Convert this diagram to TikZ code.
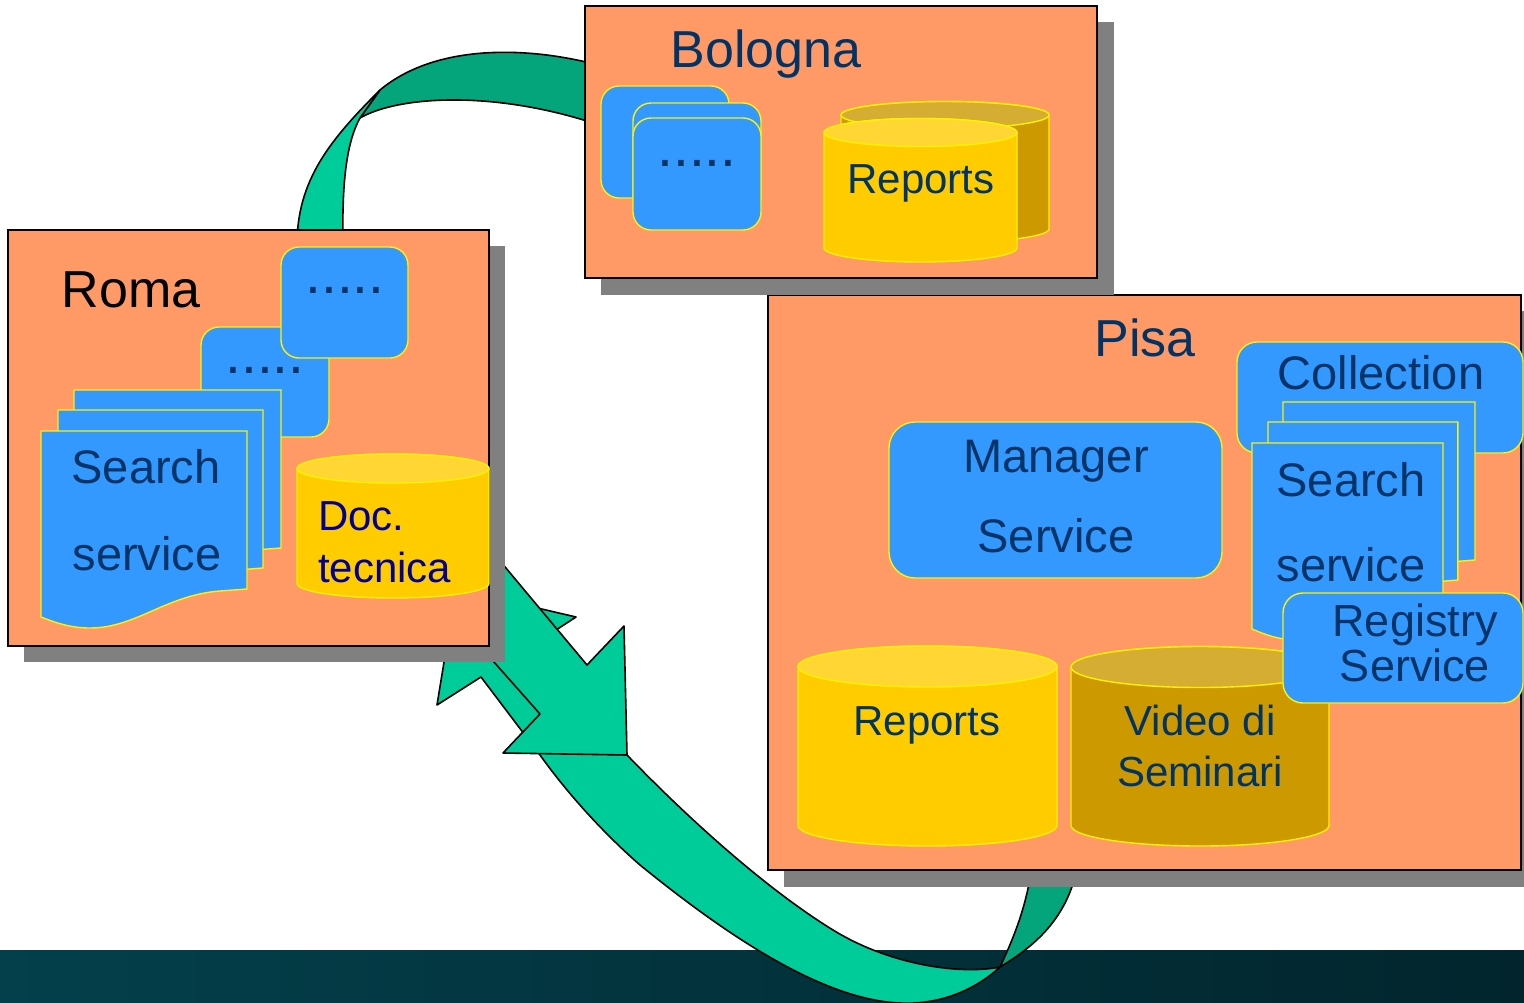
\documentclass[tikz,border=0pt]{standalone}
\usepackage{fontspec}
\setmainfont{Liberation Sans}
\definecolor{salmon}{HTML}{FF9966}
\definecolor{boxblue}{HTML}{3399FF}
\definecolor{txtblue}{HTML}{003366}
\definecolor{docblue}{HTML}{000099}
\definecolor{cylbody}{HTML}{FFCC00}
\definecolor{cyltop}{HTML}{FFD633}
\definecolor{dcylbody}{HTML}{CC9900}
\definecolor{dcyltop}{HTML}{D6AD33}
\definecolor{shadowgray}{HTML}{808080}
\definecolor{lgreen}{HTML}{00CC99}
\definecolor{dgreen}{HTML}{04A57B}
\definecolor{bandL}{HTML}{03404B}
\definecolor{bandM}{HTML}{044650}
\definecolor{bandR}{HTML}{02252D}
\newcommand{\cylshape}[7]{%
  \pgfmathsetmacro\cylcx{(#1+#2)/2}\pgfmathsetmacro\cylrx{(#2-#1)/2}%
  \filldraw[fill=#6,cylline] (#1,#3) -- (#1,#4) arc[start angle=180,end angle=360,x radius=\cylrx pt,y radius=#5pt] -- (#2,#3) arc[start angle=0,end angle=180,x radius=\cylrx pt,y radius=#5pt] -- cycle;
  \filldraw[fill=#7,cylline] (\cylcx,#3) ellipse[x radius=\cylrx pt,y radius=#5pt];
}
\newcommand{\docshape}[3]{%
  \begin{scope}[shift={(#1,#2)},xscale=#3]
    \filldraw[bluebox] (0,0) -- (206,0) -- (206,158) -- (179,160) .. controls (125,164) and (95,197) .. (49,197) .. controls (30,197) and (15,192) .. (0,186) -- cycle;
  \end{scope}}
\begin{document}
\begin{tikzpicture}[x=1pt,y=-1pt,
  sitebox/.style={fill=salmon,draw=black,line width=1.5pt},
  shadowbox/.style={fill=shadowgray},
  bluebox/.style={fill=boxblue,draw=yellow,line width=1.4pt},
  cylline/.style={draw=yellow,line width=1.4pt},
  ribbonlight/.style={fill=lgreen,draw=black,line width=1.6pt,line join=round},
  ribbondark/.style={fill=dgreen,draw=black,line width=1.6pt,line join=round},
  title/.style={inner sep=0pt,anchor=base,text=txtblue,font=\fontsize{52}{52}\selectfont},
  lbl/.style={inner sep=0pt,anchor=base,text=txtblue,font=\fontsize{47}{47}\selectfont},
  slbl/.style={inner sep=0pt,anchor=base,text=txtblue,font=\fontsize{42}{42}\selectfont},
  dots/.style={inner sep=0pt,anchor=base,text=txtblue,font=\fontsize{57}{57}\selectfont}
]
\useasboundingbox (0,0) rectangle (1524,1002);
\clip (0,0) rectangle (1524,1002);

% bottom band
\shade[left color=bandL,middle color=bandM,right color=bandR] (0,950) rectangle (1524,1002);

% ---- upper arrow (Bologna -> Roma)
\coordinate (tfold1) at (380,90);
\coordinate (tfold2) at (360,118);
\filldraw[ribbondark] (605,67) .. controls (540,48) and (440,40) .. (tfold1)
  -- (tfold2) .. controls (400,95) and (500,90) .. (605,127) -- cycle;
\filldraw[ribbonlight] (tfold1) .. controls (330,140) and (297,180) .. (297,245)
  -- (343,245) .. controls (342,190) and (345,145) .. (tfold2) -- cycle;

% ---- lower arrow (Pisa <-> Roma)
\coordinate (twist) at (1000,967);
\filldraw[ribbondark] (twist) .. controls (1015,935) and (1027,905) .. (1033,860)
  -- (1079,860) .. controls (1070,910) and (1045,940) .. (twist) -- cycle;
\filldraw[ribbonlight] (481,677) -- (437,705) -- (456,589) -- (576,617) -- (556,630) -- (627,755)
  .. controls (680,810) and (760,885) .. (833,930)
  .. controls (890,965) and (960,975) .. (twist)
  .. controls (975,990) and (940,1005) .. (900,1003)
  .. controls (820,1000) and (720,930) .. (640,865)
  .. controls (600,830) and (565,790) .. (540,755)
  -- cycle;
\filldraw[ribbonlight] (455,618) -- (540,714) -- (503,753) -- (627,755) -- (624,626) -- (587,665) -- (470,525) -- cycle;

% ---- Pisa
\fill[shadowbox] (784,311) rectangle (1540,887);
\filldraw[sitebox] (768,295) rectangle (1521,870);
\node[title] (pisa) at (1145,356) {Pisa};
\filldraw[bluebox,rounded corners=26pt] (889,422) rectangle (1222,578);
\node[lbl] (mgr1) at (1056,472) {Manager};
\node[lbl] (mgr2) at (1056,552) {Service};
\filldraw[bluebox,rounded corners=20pt] (1237,342) rectangle (1523,453);
\node[lbl] (coll) at (1381,389) {Collection};
\docshape{1283}{402}{0.932}
\docshape{1268}{422}{0.922}
\docshape{1252}{443}{0.927}
\node[lbl] (psearch1) at (1351,496) {Search};
\node[lbl] (psearch2) at (1351,581) {service};
\cylshape{798}{1057}{666.5}{825.5}{20.5}{cylbody}{cyltop}
\node[slbl] (prep) at (927,735) {Reports};
\cylshape{1071}{1329}{667}{825.5}{20.5}{dcylbody}{dcyltop}
\node[slbl] (vid1) at (1200,735) {Video di};
\node[slbl] (vid2) at (1200,786) {Seminari};
\filldraw[bluebox,rounded corners=20pt] (1283,593) rectangle (1523,703);
\node[lbl,font=\fontsize{45}{45}\selectfont] (reg1) at (1415,636) {Registry};
\node[lbl,font=\fontsize{45}{45}\selectfont] (reg2) at (1415,681) {Service};

% ---- Roma
\fill[shadowbox] (24,246) rectangle (505,662);
\filldraw[sitebox] (8,230) rectangle (489,646);
\node[title,text=black] (roma) at (131,307) {Roma};
\filldraw[bluebox,rounded corners=18pt] (201,327) rectangle (329,437);
\node[dots] (rdots2) at (265,373) {.....};
\filldraw[bluebox,rounded corners=18pt] (281,247) rectangle (408,358);
\node[dots] (rdots1) at (345,293) {.....};
\docshape{74}{390}{1.005}
\docshape{58}{410}{0.995}
\docshape{41}{431}{1.0}
\node[lbl] (rsearch1) at (146,483) {Search};
\node[lbl] (rsearch2) at (147,570) {service};
\cylshape{297}{489}{468.5}{583.5}{14.5}{cylbody}{cyltop}
\node[slbl,anchor=base west,text=docblue] (doc1) at (318,530) {Doc.};
\node[slbl,anchor=base west,text=docblue] (doc2) at (318,582) {tecnica};

% ---- Bologna
\fill[shadowbox] (601,22) rectangle (1114,295);
\filldraw[sitebox] (585,6) rectangle (1097,278);
\node[title] (bologna) at (766,67) {Bologna};
\filldraw[bluebox,rounded corners=18pt] (601,86) rectangle (729,198);
\filldraw[bluebox,rounded corners=18pt] (633,103) rectangle (761,215);
\filldraw[bluebox,rounded corners=18pt] (633,118) rectangle (761,230);
\node[dots] (bdots) at (697,166) {.....};
\cylshape{841}{1049}{115}{229}{13.5}{dcylbody}{dcyltop}
\cylshape{824}{1017}{132.5}{248}{14}{cylbody}{cyltop}
\node[slbl] (brep) at (921,193) {Reports};
\end{tikzpicture}
\end{document}
